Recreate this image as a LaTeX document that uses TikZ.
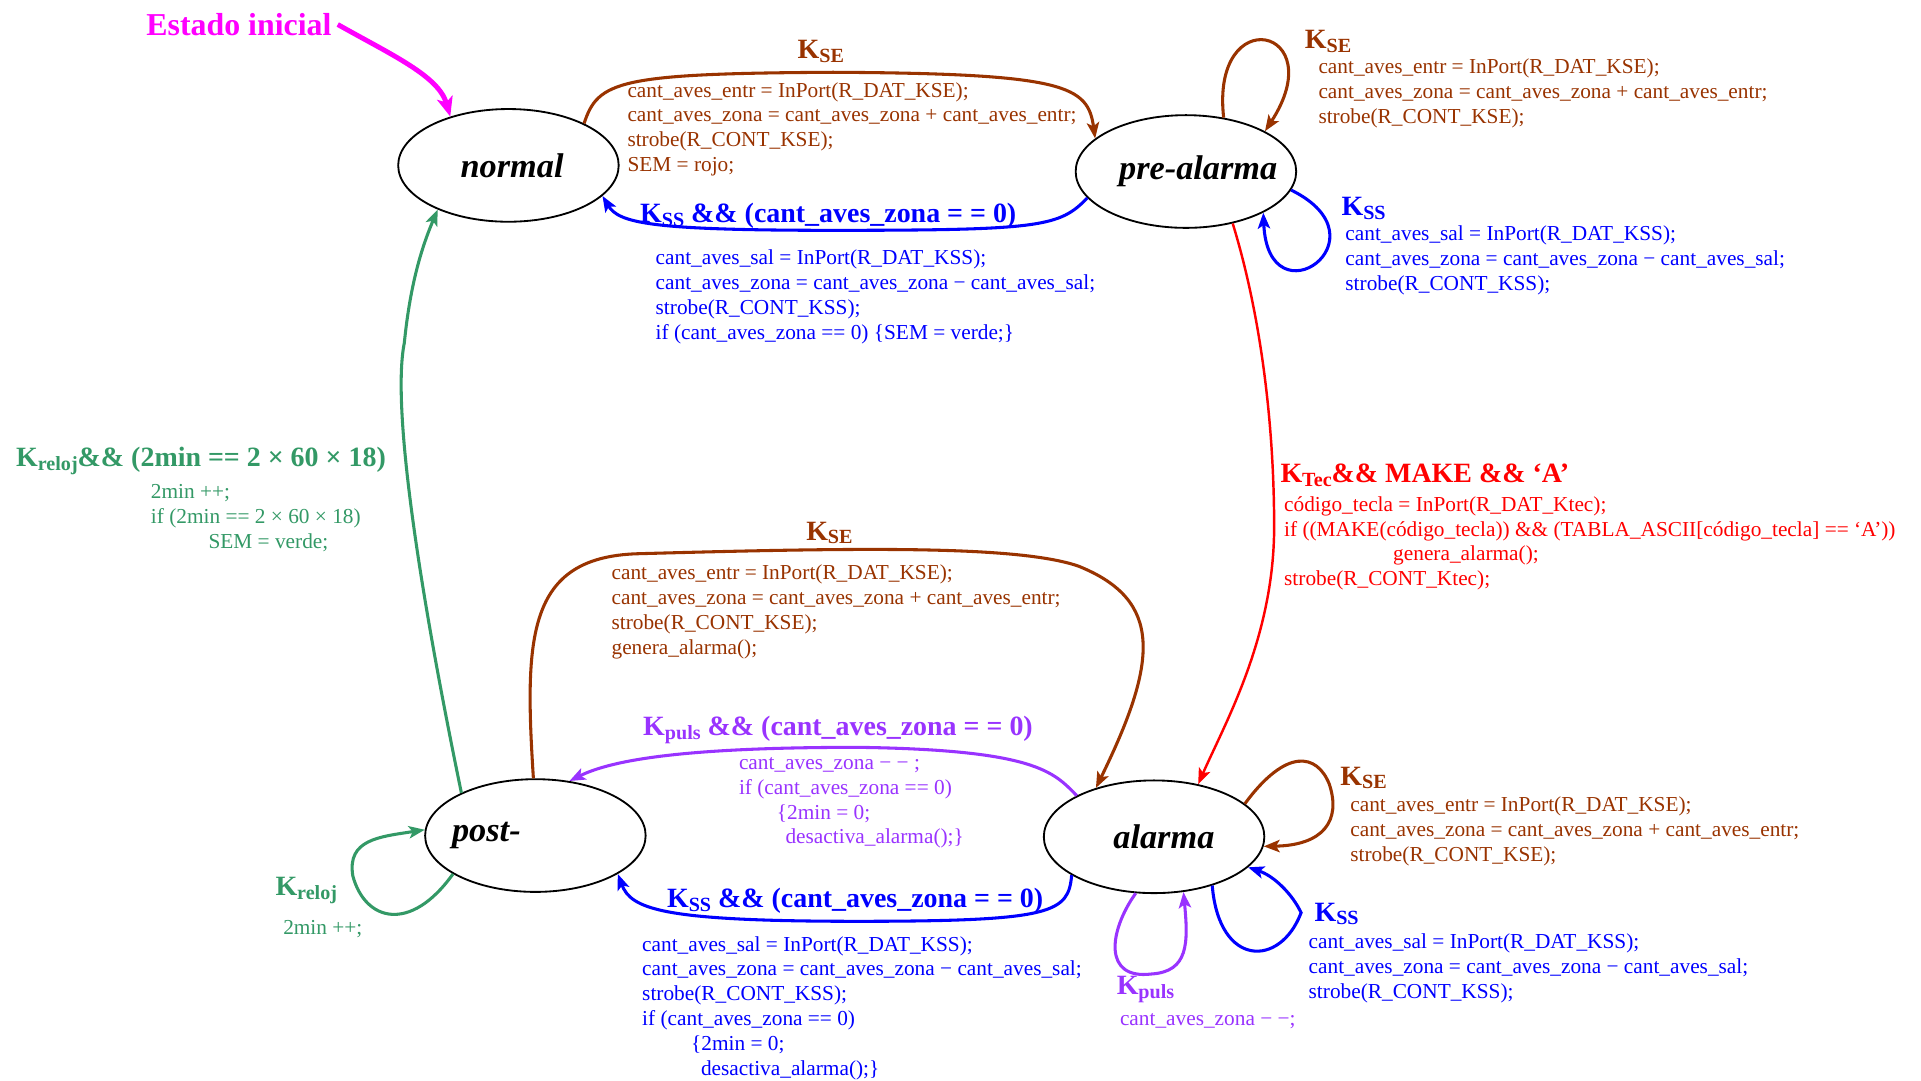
\documentclass[tikz,border=0pt]{standalone}
\usepackage{fontspec}
\setmainfont{Liberation Serif}
\usetikzlibrary{shapes.geometric,arrows.meta}
\definecolor{cbrown}{RGB}{153,51,0}
\definecolor{cblue}{RGB}{0,0,255}
\definecolor{cpurple}{RGB}{153,51,255}
\definecolor{cgreen}{RGB}{51,153,102}
\definecolor{cred}{RGB}{255,0,0}
\definecolor{cmag}{RGB}{255,0,255}
\newcommand\Ksub[1]{K\raisebox{-0.3ex}{\scalebox{0.72}{#1}}}
\begin{document}
\begin{tikzpicture}[x=1pt,y=-1pt,
 state/.style={ellipse,draw,line width=1.5pt,minimum width=180pt,minimum height=92pt,inner sep=0pt},
 sname/.style={font=\fontsize{28}{30}\selectfont\bfseries\itshape},
 code/.style={font=\fontsize{17.4}{20.3}\selectfont,align=left,anchor=north west,inner sep=0pt},
 lab/.style={font=\fontsize{22.8}{24}\selectfont\bfseries,inner sep=0pt},
 tr/.style={line width=2.5pt,-{Stealth[length=13pt,width=10pt,inset=3pt]}},
]
\fill[white] (0,0) rectangle (1568,882);
\useasboundingbox (0,0) rectangle (1568,882);

% states
\node[state,label={[sname,xshift=3pt]center:normal}] (normal) at (415,135) {};
\node[state,label={[sname,xshift=10pt]center:pre-alarma}] (pre) at (968,140) {};
\node[state,label={[sname,xshift=-40pt]center:post-}] (post) at (437,682) {};
\node[state,label={[sname,xshift=8pt]center:alarma}] (alarma) at (942,683) {};

% initial
\node[font=\fontsize{26}{28}\selectfont\bfseries,text=cmag,inner sep=5pt] (init) at (195,20) {Estado inicial};
\draw[line width=4pt,cmag,-{Stealth[length=16pt,width=13pt,inset=4pt]}] (init.east) .. controls (320,45) and (358,62) .. (normal.140);

% normal -> pre-alarma (KSE)
\draw[tr,cbrown] (normal.29) .. controls (488,66) and (505,60) .. (680,59) .. controls (870,60) and (888,70) .. (pre.160);
\node[lab,text=cbrown] (lA) at (670,42) {\Ksub{SE}};
\node[code,text=cbrown] (tA) at (512,67) {cant\_aves\_entr = InPort(R\_DAT\_KSE);\\ cant\_aves\_zona = cant\_aves\_zona + cant\_aves\_entr;\\ strobe(R\_CONT\_KSE);\\ SEM = rojo;};

% pre-alarma -> normal (KSS)
\draw[tr,cblue] (pre.195) .. controls (865,185) and (850,188) .. (680,188) .. controls (530,188) and (505,182) .. (normal.-18);
\node[lab,text=cblue] (lB) at (676,176) {\Ksub{SS} \&\& (cant\_aves\_zona = = 0)};
\node[code,text=cblue] (tB) at (535,204) {cant\_aves\_sal = InPort(R\_DAT\_KSS);\\ cant\_aves\_zona = cant\_aves\_zona − cant\_aves\_sal;\\ strobe(R\_CONT\_KSS);\\ if (cant\_aves\_zona == 0) \{SEM = verde;\}};

% pre-alarma self KSE
\draw[tr,cbrown] (pre.55) .. controls (988,0) and (1088,22) .. (pre.27);
\node[lab,text=cbrown] (lC) at (1084,34) {\Ksub{SE}};
\node[code,text=cbrown] (tC) at (1076,48) {cant\_aves\_entr = InPort(R\_DAT\_KSE);\\ cant\_aves\_zona = cant\_aves\_zona + cant\_aves\_entr;\\ strobe(R\_CONT\_KSE);};

% pre-alarma self KSS
\draw[tr,cblue] (pre.-10) .. controls (1135,195) and (1035,265) .. (pre.-28);
\node[lab,text=cblue] (lD) at (1113,170) {\Ksub{SS}};
\node[code,text=cblue] (tD) at (1098,184) {cant\_aves\_sal = InPort(R\_DAT\_KSS);\\ cant\_aves\_zona = cant\_aves\_zona − cant\_aves\_sal;\\ strobe(R\_CONT\_KSS);};

% pre-alarma -> alarma (KTec)
\draw[line width=2pt,cred,-{Stealth[length=13pt,width=10pt,inset=3pt]}] (pre.-48) .. controls (1030,260) and (1040,350) .. (1040,430) .. controls (1040,520) and (1000,590) .. (alarma.50);
\node[lab,text=cred,anchor=west] (lE) at (1045,388) {\Ksub{Tec}\&\& MAKE \&\& ‘A’};
\node[code,text=cred] (tE) at (1048,405) {código\_tecla = InPort(R\_DAT\_Ktec);\\ if ((MAKE(código\_tecla)) \&\& (TABLA\_ASCII[código\_tecla] == ‘A’))\\ \hspace*{89pt}genera\_alarma();\\ strobe(R\_CONT\_Ktec);};

% post -> alarma (KSE)
\draw[tr,cbrown] (post.92) .. controls (428,520) and (430,455) .. (520,452) .. controls (700,447) and (830,445) .. (880,462) .. controls (950,490) and (945,540) .. (alarma.140);
\node[lab,text=cbrown] (lF) at (677,435) {\Ksub{SE}};
\node[code,text=cbrown] (tF) at (499,461) {cant\_aves\_entr = InPort(R\_DAT\_KSE);\\ cant\_aves\_zona = cant\_aves\_zona + cant\_aves\_entr;\\ strobe(R\_CONT\_KSE);\\ genera\_alarma();};

% alarma -> post (Kpuls)
\draw[tr,cpurple] (alarma.152) .. controls (860,630) and (845,612) .. (700,610) .. controls (560,610) and (500,620) .. (post.58);
\node[lab,text=cpurple] (lG) at (684,596) {\Ksub{puls} \&\& (cant\_aves\_zona = = 0)};
\node[code,text=cpurple] (tG) at (603,618) {cant\_aves\_zona − − ;\\ if (cant\_aves\_zona == 0)\\ \hspace*{31pt}\{2min = 0;\\ \hspace*{38pt}desactiva\_alarma();\}};

% alarma -> post (KSS)
\draw[tr,cblue] (alarma.205) .. controls (872,745) and (860,752) .. (700,752) .. controls (540,752) and (515,742) .. (post.-25);
\node[lab,text=cblue] (lH) at (698,735) {\Ksub{SS} \&\& (cant\_aves\_zona = = 0)};
\node[code,text=cblue] (tH) at (524,764) {cant\_aves\_sal = InPort(R\_DAT\_KSS);\\ cant\_aves\_zona = cant\_aves\_zona − cant\_aves\_sal;\\ strobe(R\_CONT\_KSS);\\ if (cant\_aves\_zona == 0)\\ \hspace*{40pt}\{2min = 0;\\ \hspace*{48pt}desactiva\_alarma();\}};

% alarma self KSE
\draw[tr,cbrown] (alarma.20) .. controls (1050,610) and (1075,615) .. (1085,640) .. controls (1095,670) and (1080,690) .. (alarma.-5);
\node[lab,text=cbrown] (lI) at (1113,635) {\Ksub{SE}};
\node[code,text=cbrown] (tI) at (1102,650) {cant\_aves\_entr = InPort(R\_DAT\_KSE);\\ cant\_aves\_zona = cant\_aves\_zona + cant\_aves\_entr;\\ strobe(R\_CONT\_KSE);};

% alarma self KSS
\draw[tr,cblue] (alarma.-40) .. controls (995,790) and (1045,790) .. (1062,745) .. controls (1055,730) and (1040,715) .. (alarma.-18);
\node[lab,text=cblue] (lJ) at (1091,746) {\Ksub{SS}};
\node[code,text=cblue] (tJ) at (1068,762) {cant\_aves\_sal = InPort(R\_DAT\_KSS);\\ cant\_aves\_zona = cant\_aves\_zona − cant\_aves\_sal;\\ strobe(R\_CONT\_KSS);};

% alarma self Kpuls
\draw[tr,cpurple] (alarma.-108) .. controls (905,760) and (900,800) .. (940,795) .. controls (970,793) and (970,770) .. (alarma.-62);
\node[lab,text=cpurple] (lK) at (935,808) {\Ksub{puls}};
\node[code,text=cpurple] (tK) at (914,827) {cant\_aves\_zona − −;};

% post self Kreloj
\draw[tr,cgreen] (post.205) .. controls (335,762) and (298,752) .. (288,715) .. controls (283,685) and (310,683) .. (post.177);
\node[lab,text=cgreen] (lL) at (250,727) {\Ksub{reloj}};
\node[code,text=cgreen] (tL) at (231,751) {2min ++;};

% post -> normal (Kreloj && ...)
\draw[tr,cgreen] (post.150) .. controls (340,470) and (320,330) .. (330,280) .. controls (335,230) and (345,200) .. (normal.212);
\node[lab,text=cgreen,anchor=west] (lM) at (13,376) {\Ksub{reloj}\&\& (2min == 2 × 60 × 18)};
\node[code,text=cgreen] (tM) at (123,395) {2min ++;\\ if (2min == 2 × 60 × 18)\\ \hspace*{47pt}SEM = verde;};
\end{tikzpicture}
\end{document}
